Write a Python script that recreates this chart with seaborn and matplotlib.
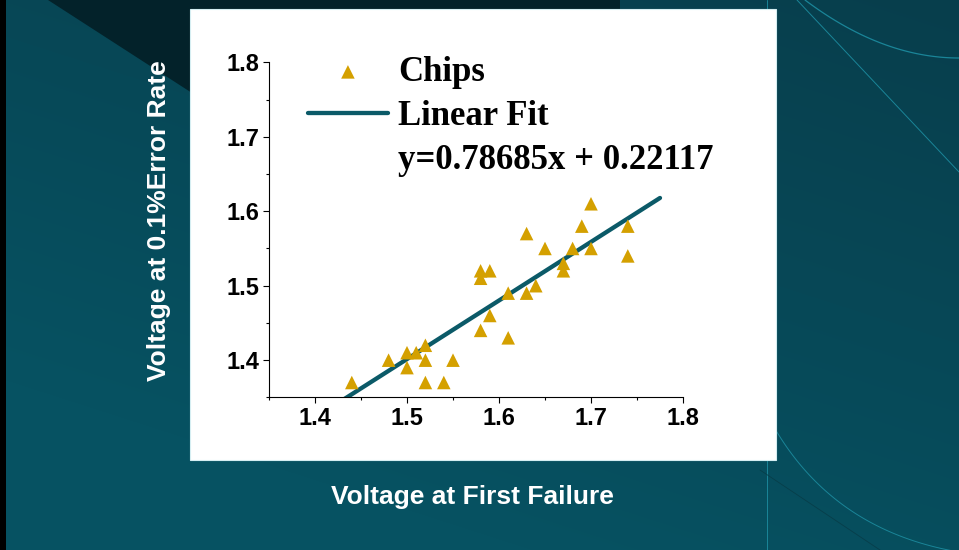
import numpy as np
import pandas as pd
import matplotlib
matplotlib.use("Agg")
import matplotlib.pyplot as plt
import seaborn as sns
from matplotlib.patches import Rectangle, Polygon
from matplotlib.lines import Line2D

# ---------------- data ----------------
x_first_failure = [1.44, 1.48, 1.50, 1.50, 1.51, 1.52, 1.52, 1.52, 1.54, 1.55,
                   1.58, 1.58, 1.58, 1.59, 1.59, 1.61, 1.61, 1.63, 1.63, 1.64,
                   1.65, 1.67, 1.67, 1.68, 1.69, 1.70, 1.70, 1.74, 1.74]
y_error_rate = [1.37, 1.40, 1.41, 1.39, 1.41, 1.42, 1.40, 1.37, 1.37, 1.40,
                1.44, 1.51, 1.52, 1.52, 1.46, 1.49, 1.43, 1.49, 1.57, 1.50,
                1.55, 1.53, 1.52, 1.55, 1.58, 1.61, 1.55, 1.58, 1.54]
fit_slope = 0.78685
fit_intercept = 0.22117
fit_x_range = [1.40, 1.775]
tick_values = [1.4, 1.5, 1.6, 1.7, 1.8]
tick_labels = ["1.4", "1.5", "1.6", "1.7", "1.8"]
series_labels = ["Chips", "Linear Fit"]
equation_label = "y=0.78685x + 0.22117"
x_label = "Voltage at First Failure"
y_label = "Voltage at 0.1%Error Rate"

df = pd.DataFrame({"x": x_first_failure, "y": y_error_rate})
fit_x = np.array(fit_x_range)
fit_df = pd.DataFrame({"x": fit_x, "y": fit_slope * fit_x + fit_intercept})

# ---------------- style ----------------
sns.set_theme(style="ticks")
plt.rcParams["font.family"] = ["Liberation Sans", "DejaVu Sans"]
plt.rcParams["text.color"] = "black"

W, H = 959, 550
fig = plt.figure(figsize=(W / 100, H / 100), dpi=100)

# ---------------- slide background ----------------
bg = fig.add_axes([0, 0, 1, 1], zorder=-10)
bg.set_xlim(0, W)
bg.set_ylim(H, 0)
bg.axis("off")
yy, xx = np.mgrid[0:H, 0:W]
t = np.clip(0.8 * yy / H + 0.45 * (1 - xx / W), 0, 1)[..., None]
top_c = np.array([8, 62, 76]) / 255
bot_c = np.array([6, 82, 98]) / 255
img = top_c * (1 - t) + bot_c * t
bg.imshow(img, extent=[0, W, H, 0], aspect="auto", zorder=0)
bg.add_patch(Polygon([(48, 0), (192, 93), (620, 93), (620, 0)],
                     closed=True, facecolor="#03222a", edgecolor="none", zorder=1))
bg.add_patch(Rectangle((0, 0), 6, H, facecolor="black", edgecolor="none", zorder=2))
deco = "#1a8598"
bg.plot([767, 767], [0, H], color=deco, lw=0.7, zorder=1)
bg.plot([797, 959], [0, 172], color=deco, lw=0.7, zorder=1)
u = np.linspace(0, 1, 80)
bg.plot(805 + 154 * u, 58 * (1 - (1 - u) ** 2), color=deco, lw=0.9, zorder=1)
p0, p1, p2 = np.array([770, 420]), np.array([830, 530]), np.array([959, 552])
bez = ((1 - u) ** 2)[:, None] * p0 + (2 * u * (1 - u))[:, None] * p1 + (u ** 2)[:, None] * p2
bg.plot(bez[:, 0], bez[:, 1], color=deco, lw=0.7, zorder=1)
bg.plot([760, 880], [470, 550], color="#073e4a", lw=0.6, zorder=1)
bg.add_patch(Rectangle((190, 9), 586, 451, facecolor="white",
                       edgecolor="#d5eef2", lw=0.8, zorder=3))

# ---------------- main axes ----------------
ax = fig.add_axes([269 / W, 1 - 397.4 / H, 414 / W, 335.1 / H])
ax.set_facecolor("none")

sns.lineplot(data=fit_df, x="x", y="y", color="#0b5a68", linewidth=3.1,
             ax=ax, label=series_labels[1], zorder=2, solid_capstyle="round")
sns.scatterplot(data=df, x="x", y="y", marker="^", s=95, color="#d4a000",
                linewidth=0, edgecolor="none", ax=ax, label=series_labels[0], zorder=3)

ax.set_xlim(1.35, 1.8)
ax.set_ylim(1.35, 1.8)
ax.set_xticks(tick_values)
ax.set_xticklabels(tick_labels)
ax.set_yticks(tick_values)
ax.set_yticklabels(tick_labels)
ax.set_xticks([v - 0.05 for v in tick_values], minor=True)
ax.set_yticks([v - 0.05 for v in tick_values], minor=True)
ax.tick_params(which="major", direction="out", length=4, width=0.8,
               color="black", labelsize=17, pad=3, labelcolor="black")
ax.tick_params(which="minor", direction="out", length=2.5, width=0.8, color="black")
for lbl in ax.get_xticklabels() + ax.get_yticklabels():
    lbl.set_fontweight("bold")
for side in ["top", "right"]:
    ax.spines[side].set_visible(False)
for side in ["left", "bottom"]:
    ax.spines[side].set_color("black")
    ax.spines[side].set_linewidth(0.8)
ax.set_xlabel("")
ax.set_ylabel("")

handles, labels = ax.get_legend_handles_labels()
order = [labels.index(series_labels[0]), labels.index(series_labels[1])]
handles = [handles[i] for i in order] + [Line2D([], [], linestyle="none")]
labels = series_labels + [equation_label]
leg = ax.legend(handles, labels, loc="upper left",
                bbox_to_anchor=(308 / W, 1 - 56 / H), bbox_transform=fig.transFigure,
                frameon=False, prop=dict(family="Liberation Serif", weight="bold", size=25),
                handlelength=2.3, handletextpad=0.3, labelspacing=0.31,
                borderpad=0, borderaxespad=0, scatterpoints=1, labelcolor="black")

# ---------------- axis titles ----------------
fig.text(472 / W, 1 - 504 / H, x_label, ha="center", va="baseline",
         color="white", fontsize=19, fontweight="bold")
fig.text(166 / W, 1 - 221 / H, y_label, ha="center", va="baseline",
         rotation=90, rotation_mode="anchor",
         color="white", fontsize=19, fontweight="bold")

fig.savefig("out.png", dpi=100)
